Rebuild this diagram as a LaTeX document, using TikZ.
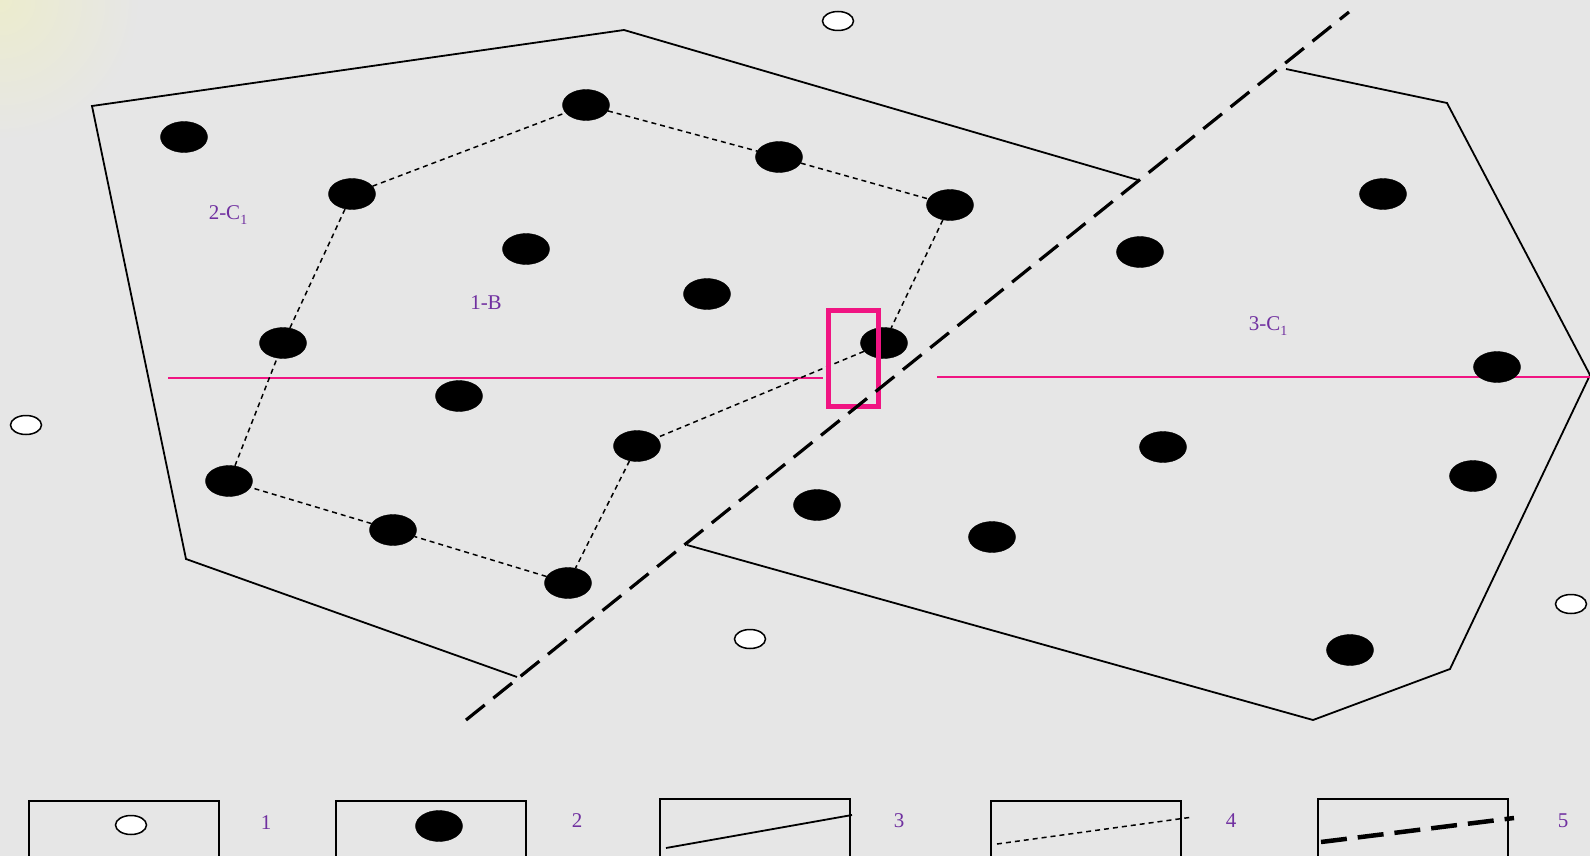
\documentclass[tikz,border=0pt]{standalone}
\usepackage{fontspec}
\setmainfont{Liberation Serif}
\usetikzlibrary{shapes.geometric}
\definecolor{bg}{RGB}{230,230,230}
\definecolor{lblpurple}{RGB}{112,48,160}
\definecolor{hotpink}{RGB}{240,20,130}
\newcommand{\mysub}[1]{\raisebox{-0.55ex}{\fontsize{14}{14}\selectfont #1}}
\tikzset{
  bigdot/.style={ellipse, fill=black, draw=black, minimum width=47pt, minimum height=31pt, inner sep=0pt},
  smalldot/.style={ellipse, fill=white, draw=black, line width=1.5pt, minimum width=31pt, minimum height=19pt, inner sep=0pt},
  hull/.style={line width=1.8pt, black},
  inner/.style={line width=1.5pt, dash pattern=on 5pt off 4pt},
  bigdash/.style={line width=3.2pt, dash pattern=on 24pt off 11pt},
  pinkline/.style={line width=2pt, hotpink},
  lbl/.style={text=lblpurple, font=\fontsize{21}{24}\selectfont, inner sep=0pt},
  legbox/.style={draw=black, line width=1.8pt},
}
\begin{document}
\begin{tikzpicture}[x=1pt,y=-1pt]
\useasboundingbox (0,0) rectangle (1590,856);
\fill[bg] (0,0) rectangle (1590,856);
\shade[inner color={rgb,255:red,236;green,236;blue,205}, outer color=bg] (0,0) circle (140);

% hull of 2-C1 (open)
\draw[hull] (1138,180) -- (624,30) -- (92,106) -- (186,559) -- (517,677);
% hull of 3-C1 (open)
\draw[hull] (1286,69) -- (1447,103) -- (1590,375) -- (1450,669) -- (1313,720) -- (687,545);

% pink lines
\draw[pinkline] (168,378) -- (823,378);
\draw[pinkline] (937,377) -- (1590,377);

% dots
\node[bigdot] (d1) at (184,137) {};
\node[bigdot] (d2) at (586,105) {};
\node[bigdot] (d3) at (779,157) {};
\node[bigdot] (d4) at (352,194) {};
\node[bigdot] (d5) at (950,205) {};
\node[bigdot] (d6) at (526,249) {};
\node[bigdot] (d7) at (707,294) {};
\node[bigdot] (d8) at (283,343) {};
\node[bigdot] (d9) at (884,343) {};
\node[bigdot] (d10) at (459,396) {};
\node[bigdot] (d11) at (637,446) {};
\node[bigdot] (d12) at (229,481) {};
\node[bigdot] (d13) at (393,530) {};
\node[bigdot] (d14) at (568,583) {};
\node[bigdot] (d15) at (817,505) {};
\node[bigdot] (d16) at (992,537) {};
\node[bigdot] (d17) at (1140,252) {};
\node[bigdot] (d18) at (1383,194) {};
\node[bigdot] (d19) at (1497,367) {};
\node[bigdot] (d20) at (1163,447) {};
\node[bigdot] (d21) at (1473,476) {};
\node[bigdot] (d22) at (1350,650) {};

\node[smalldot] (w1) at (838,21) {};
\node[smalldot] (w2) at (26,425) {};
\node[smalldot] (w3) at (750,639) {};
\node[smalldot] (w4) at (1571,604) {};

% inner dashed polygon 1-B
\draw[inner] (d2) -- (d3) -- (d5) -- (d9) -- (d11) -- (d14) -- (d13) -- (d12) -- (d8) -- (d4) -- (d2);

% pink rectangle
\node[draw=hotpink, line width=5.5pt, minimum width=50pt, minimum height=96pt, inner sep=0pt] (pr) at (853.5,358.5) {};

% big dashed separator
\coordinate (s1) at (466,720);
\coordinate (s2) at (1349,12);
\draw[bigdash] (s1) -- (s2);

% labels
\node[lbl] (l1) at (228,215) {2-C\mysub{1}};
\node[lbl] (l2) at (486,303) {1-B};
\node[lbl] (l3) at (1268,326) {3-C\mysub{1}};

% legend
\node[legbox, minimum width=190pt, minimum height=56pt, inner sep=0pt] (b1) at (124,829) {};
\node[smalldot] (lw) at (131,825) {};
\node[lbl] (n1) at (266,823) {1};

\node[legbox, minimum width=190pt, minimum height=56pt, inner sep=0pt] (b2) at (431,829) {};
\node[bigdot] (lb) at (439,826) {};
\node[lbl] (n2) at (577,821) {2};

\node[legbox, minimum width=190pt, minimum height=58pt, inner sep=0pt] (b3) at (755,828) {};
\coordinate (a3) at (666,848);
\coordinate (e3) at (852,815);
\draw[hull] (a3) -- (e3);
\node[lbl] (n3) at (899,821) {3};

\node[legbox, minimum width=190pt, minimum height=56pt, inner sep=0pt] (b4) at (1086,829) {};
\coordinate (a4) at (997,844);
\coordinate (e4) at (1193,817);
\draw[line width=1.5pt, dash pattern=on 5pt off 4pt] (a4) -- (e4);
\node[lbl] (n4) at (1231,821) {4};

\node[legbox, minimum width=190pt, minimum height=58pt, inner sep=0pt] (b5) at (1413,828) {};
\coordinate (a5) at (1321,842);
\coordinate (e5) at (1514,818);
\draw[line width=4.5pt, dash pattern=on 26pt off 11pt] (a5) -- (e5);
\node[lbl] (n5) at (1563,821) {5};
\end{tikzpicture}
\end{document}
